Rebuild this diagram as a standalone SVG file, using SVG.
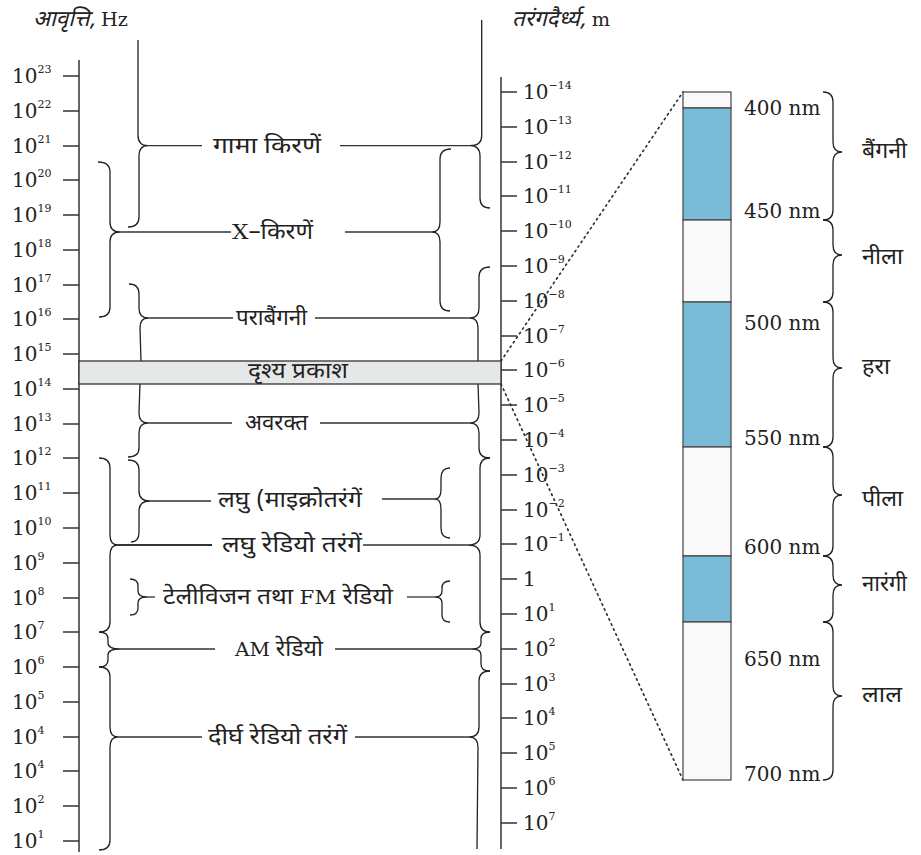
<svg xmlns="http://www.w3.org/2000/svg" width="921" height="855" viewBox="0 0 921 855">
<style>
.num{font-family:'DejaVu Serif','Liberation Serif',serif;font-size:20px;fill:#222}
.sup{font-size:11px}
.hi{font-family:'Noto Sans Devanagari','Noto Serif Devanagari','Lohit Devanagari','Gargi','Mukta',sans-serif;font-size:22px;fill:#222}
.hdr{font-family:'Noto Sans Devanagari','Noto Serif Devanagari','Lohit Devanagari',sans-serif;font-size:22px;font-style:italic;fill:#222}
.ser{font-family:'DejaVu Serif','Liberation Serif',serif;font-style:normal}
.axis{stroke:#666;stroke-width:2;fill:none}
.tick{stroke:#333;stroke-width:1.5}
.br{stroke:#222;stroke-width:1.3;fill:none}
.ln{stroke:#333;stroke-width:1.3}
.dot{stroke:#333;stroke-width:1.7;stroke-dasharray:1.5 4;stroke-linecap:round;fill:none}
.seg{stroke:#444;stroke-width:1.2}
.blue{fill:#7abcd8}
.wht{fill:#f9f9f9}
</style>

<g id="headers">
<text class="hdr" x="33" y="26" textLength="95" lengthAdjust="spacingAndGlyphs">आवृत्ति, <tspan class="ser" font-size="19">Hz</tspan></text>
<text class="hdr" x="512" y="26" textLength="98" lengthAdjust="spacingAndGlyphs">तरंगदैर्ध्य, <tspan class="ser" font-size="19">m</tspan></text>
</g>

<g id="freq-axis">
<line class="axis" x1="79" y1="60" x2="79" y2="852"/>
<g class="tick">
<line x1="63" y1="76" x2="79" y2="76"/><line x1="63" y1="111" x2="79" y2="111"/><line x1="63" y1="146" x2="79" y2="146"/><line x1="63" y1="180" x2="79" y2="180"/><line x1="63" y1="215" x2="79" y2="215"/><line x1="63" y1="250" x2="79" y2="250"/><line x1="63" y1="285" x2="79" y2="285"/><line x1="63" y1="319" x2="79" y2="319"/><line x1="63" y1="354" x2="79" y2="354"/><line x1="63" y1="389" x2="79" y2="389"/><line x1="63" y1="424" x2="79" y2="424"/><line x1="63" y1="458" x2="79" y2="458"/><line x1="63" y1="493" x2="79" y2="493"/><line x1="63" y1="528" x2="79" y2="528"/><line x1="63" y1="563" x2="79" y2="563"/><line x1="63" y1="598" x2="79" y2="598"/><line x1="63" y1="632" x2="79" y2="632"/><line x1="63" y1="667" x2="79" y2="667"/><line x1="63" y1="702" x2="79" y2="702"/><line x1="63" y1="737" x2="79" y2="737"/><line x1="63" y1="771" x2="79" y2="771"/><line x1="63" y1="806" x2="79" y2="806"/><line x1="63" y1="841" x2="79" y2="841"/>
</g>
<text class="num" x="12" y="83">10<tspan class="sup" dy="-10">23</tspan></text>
<text class="num" x="12" y="118">10<tspan class="sup" dy="-10">22</tspan></text>
<text class="num" x="12" y="153">10<tspan class="sup" dy="-10">21</tspan></text>
<text class="num" x="12" y="187">10<tspan class="sup" dy="-10">20</tspan></text>
<text class="num" x="12" y="222">10<tspan class="sup" dy="-10">19</tspan></text>
<text class="num" x="12" y="257">10<tspan class="sup" dy="-10">18</tspan></text>
<text class="num" x="12" y="292">10<tspan class="sup" dy="-10">17</tspan></text>
<text class="num" x="12" y="326">10<tspan class="sup" dy="-10">16</tspan></text>
<text class="num" x="12" y="361">10<tspan class="sup" dy="-10">15</tspan></text>
<text class="num" x="12" y="396">10<tspan class="sup" dy="-10">14</tspan></text>
<text class="num" x="12" y="431">10<tspan class="sup" dy="-10">13</tspan></text>
<text class="num" x="12" y="465">10<tspan class="sup" dy="-10">12</tspan></text>
<text class="num" x="12" y="500">10<tspan class="sup" dy="-10">11</tspan></text>
<text class="num" x="12" y="535">10<tspan class="sup" dy="-10">10</tspan></text>
<text class="num" x="12" y="570">10<tspan class="sup" dy="-10">9</tspan></text>
<text class="num" x="12" y="605">10<tspan class="sup" dy="-10">8</tspan></text>
<text class="num" x="12" y="639">10<tspan class="sup" dy="-10">7</tspan></text>
<text class="num" x="12" y="674">10<tspan class="sup" dy="-10">6</tspan></text>
<text class="num" x="12" y="709">10<tspan class="sup" dy="-10">5</tspan></text>
<text class="num" x="12" y="744">10<tspan class="sup" dy="-10">4</tspan></text>
<text class="num" x="12" y="778">10<tspan class="sup" dy="-10">4</tspan></text>
<text class="num" x="12" y="813">10<tspan class="sup" dy="-10">2</tspan></text>
<text class="num" x="12" y="848">10<tspan class="sup" dy="-10">1</tspan></text>
</g>

<g id="wave-axis">
<line class="axis" x1="501" y1="77" x2="501" y2="849"/>
<g class="tick">
<line x1="501" y1="92" x2="517" y2="92"/><line x1="501" y1="127" x2="517" y2="127"/><line x1="501" y1="162" x2="517" y2="162"/><line x1="501" y1="196" x2="517" y2="196"/><line x1="501" y1="231" x2="517" y2="231"/><line x1="501" y1="266" x2="517" y2="266"/><line x1="501" y1="301" x2="517" y2="301"/><line x1="501" y1="336" x2="517" y2="336"/><line x1="501" y1="370" x2="517" y2="370"/><line x1="501" y1="405" x2="517" y2="405"/><line x1="501" y1="440" x2="517" y2="440"/><line x1="501" y1="475" x2="517" y2="475"/><line x1="501" y1="510" x2="517" y2="510"/><line x1="501" y1="544" x2="517" y2="544"/><line x1="501" y1="579" x2="517" y2="579"/><line x1="501" y1="614" x2="517" y2="614"/><line x1="501" y1="649" x2="517" y2="649"/><line x1="501" y1="684" x2="517" y2="684"/><line x1="501" y1="718" x2="517" y2="718"/><line x1="501" y1="753" x2="517" y2="753"/><line x1="501" y1="788" x2="517" y2="788"/><line x1="501" y1="823" x2="517" y2="823"/>
</g>
<text class="num" x="523" y="99">10<tspan class="sup" dy="-10">−14</tspan></text>
<text class="num" x="523" y="134">10<tspan class="sup" dy="-10">−13</tspan></text>
<text class="num" x="523" y="169">10<tspan class="sup" dy="-10">−12</tspan></text>
<text class="num" x="523" y="203">10<tspan class="sup" dy="-10">−11</tspan></text>
<text class="num" x="523" y="238">10<tspan class="sup" dy="-10">−10</tspan></text>
<text class="num" x="523" y="273">10<tspan class="sup" dy="-10">−9</tspan></text>
<text class="num" x="523" y="308">10<tspan class="sup" dy="-10">−8</tspan></text>
<text class="num" x="523" y="343">10<tspan class="sup" dy="-10">−7</tspan></text>
<text class="num" x="523" y="377">10<tspan class="sup" dy="-10">−6</tspan></text>
<text class="num" x="523" y="412">10<tspan class="sup" dy="-10">−5</tspan></text>
<text class="num" x="523" y="447">10<tspan class="sup" dy="-10">−4</tspan></text>
<text class="num" x="523" y="482">10<tspan class="sup" dy="-10">−3</tspan></text>
<text class="num" x="523" y="517">10<tspan class="sup" dy="-10">−2</tspan></text>
<text class="num" x="523" y="551">10<tspan class="sup" dy="-10">−1</tspan></text>
<text class="num" x="523" y="586">1</text>
<text class="num" x="523" y="621">10<tspan class="sup" dy="-10">1</tspan></text>
<text class="num" x="523" y="656">10<tspan class="sup" dy="-10">2</tspan></text>
<text class="num" x="523" y="691">10<tspan class="sup" dy="-10">3</tspan></text>
<text class="num" x="523" y="725">10<tspan class="sup" dy="-10">4</tspan></text>
<text class="num" x="523" y="760">10<tspan class="sup" dy="-10">5</tspan></text>
<text class="num" x="523" y="795">10<tspan class="sup" dy="-10">6</tspan></text>
<text class="num" x="523" y="830">10<tspan class="sup" dy="-10">7</tspan></text>
</g>

<g id="connectors">
<g class="br">
<path d="M138,40 L138,135 Q138,145.7 148,145.7 Q139,145.7 139,156 L139,217 Q139,227 128,227"/>
<path d="M98,162 Q110,162 110,172 L110,222 Q110,232 120,232 Q110,232 110,242 L110,307 Q110,317 99,317"/>
<path d="M129,284 Q139,284 139,294 L139,308 Q139,318 148,318 Q140,318 140,328 L141,362"/>
<path d="M140,383 L139,413 Q139,423 148,423 Q139,423 139,433 L139,448 Q139,457 128,457"/>
<path d="M128,460 Q139,460 139,470 L139,491 Q139,501 150,501 Q139,501 139,511 L139,532 Q139,542 131,542"/>
<path d="M99,458 Q110,458 110,468 L110,535 Q110,545 118,545 Q110,545 110,555 L110,622 Q110,632 99,632"/>
<path d="M130,579 Q138,579 138,586 L138,591 Q138,597 147,597 Q138,597 138,603 L138,608 Q138,615 130,615"/>
<path d="M99,632 Q108,632 108,639 L108,643 Q108,649 120,649 Q108,649 108,655 L108,660 Q108,667 99,667"/>
<path d="M99,667 Q110,667 110,677 L110,727 Q110,737 118,737 Q110,737 110,747 L110,840 Q110,850 99,850"/>
<path d="M481.7,20 L481.7,136 Q481.7,145.7 470,145.7 Q480,145.7 480,156 L480,198 Q480,208 490,208"/>
<path d="M451,149 Q440,149 440,159 L440,222 Q440,232 432,232 Q440,232 440,242 L440,301 Q440,311 450,311"/>
<path d="M490,267 Q479,267 479,277 L479,308 Q479,318 470,318 Q478,318 478,328 L478,362"/>
<path d="M478,383 L479,413 Q479,423 470,423 Q479,423 479,433 L479,448 Q479,458 490,458"/>
<path d="M450,468 Q441,468 441,478 L441,489 Q441,499 435,499 Q441,499 441,509 L441,528 Q441,538 450,538"/>
<path d="M490,458 Q480,458 480,468 L480,535 Q480,545 468,545 Q480,545 480,555 L480,622 Q480,632 490,632"/>
<path d="M450,581 Q442,581 442,588 L442,591 Q442,597 435,597 Q442,597 442,603 L442,615 Q442,622 450,622"/>
<path d="M490,632 Q481,632 481,639 L481,643 Q481,649 472,649 Q481,649 481,655 L481,664 Q481,671 490,671"/>
<path d="M490,671 Q479,671 479,681 L479,727 Q479,737 469,737 Q478,737 478,747 L477,849"/>
<path d="M823,92 Q833,92 833,102 L833,142 Q833,152 842,152 Q833,152 833,162 L833,210 Q833,220 823,220"/>
<path d="M823,220 Q833,220 833,230 L833,245 Q833,255 842,255 Q833,255 833,265 L833,292 Q833,302 823,302"/>
<path d="M823,302 Q833,302 833,312 L833,358 Q833,368 842,368 Q833,368 833,378 L833,437 Q833,447 823,447"/>
<path d="M823,447 Q833,447 833,457 L833,485 Q833,495 842,495 Q833,495 833,505 L833,546 Q833,556 823,556"/>
<path d="M823,556 Q833,556 833,566 L833,575 Q833,585 842,585 Q833,585 833,595 L833,612 Q833,622 823,622"/>
<path d="M823,622 Q833,622 833,632 L833,686 Q833,696 842,696 Q833,696 833,706 L833,770 Q833,780 823,780"/>
</g>
<g class="ln">
<line x1="148" y1="145.7" x2="202" y2="145.7"/><line x1="340" y1="145.7" x2="470" y2="145.7"/>
<line x1="120" y1="232" x2="231" y2="232"/><line x1="345" y1="232" x2="432" y2="232"/>
<line x1="148" y1="318" x2="233" y2="318"/><line x1="315" y1="318" x2="470" y2="318"/>
<line x1="148" y1="423" x2="232" y2="423"/><line x1="320" y1="423" x2="470" y2="423"/>
<line x1="150" y1="501" x2="211" y2="501"/><line x1="382" y1="499" x2="435" y2="499"/>
<line x1="118" y1="545" x2="212" y2="545" stroke-width="1.8"/><line x1="363" y1="545" x2="468" y2="545"/>
<line x1="147" y1="597" x2="155" y2="597"/><line x1="407" y1="597" x2="435" y2="597"/>
<line x1="120" y1="649" x2="215" y2="649"/><line x1="335" y1="649" x2="472" y2="649"/>
<line x1="118" y1="737" x2="202" y2="737"/><line x1="355" y1="737" x2="469" y2="737"/>
</g>
<path class="dot" d="M501,361 L683,92"/>
<path class="dot" d="M501,384 L683,780"/>
</g>

<g id="visible-band">
<rect x="79" y="361" width="422" height="23" fill="#e6e7e8" stroke="#333" stroke-width="1.3"/>
<text class="hi" x="248" y="378" textLength="100" lengthAdjust="spacingAndGlyphs">दृश्य प्रकाश</text>
</g>

<g id="labels">
<text class="hi" x="213" y="153" textLength="108" lengthAdjust="spacingAndGlyphs">गामा किरणें</text>
<text class="hi" x="232" y="239" textLength="81" lengthAdjust="spacingAndGlyphs"><tspan class="ser" font-size="21">X</tspan>–किरणें</text>
<text class="hi" x="236" y="325" textLength="71" lengthAdjust="spacingAndGlyphs">पराबैंगनी</text>
<text class="hi" x="245" y="430" textLength="63" lengthAdjust="spacingAndGlyphs">अवरक्त</text>
<text class="hi" x="218" y="507" textLength="144" lengthAdjust="spacingAndGlyphs">लघु (माइक्रोतरंगें</text>
<text class="hi" x="222" y="552" textLength="140" lengthAdjust="spacingAndGlyphs">लघु रेडियो तरंगें</text>
<text class="hi" x="163" y="604" textLength="230" lengthAdjust="spacingAndGlyphs">टेलीविजन तथा <tspan class="ser" font-size="19">FM</tspan> रेडियो</text>
<text class="hi" x="235" y="656" textLength="88" lengthAdjust="spacingAndGlyphs"><tspan class="ser" font-size="19">AM</tspan> रेडियो</text>
<text class="hi" x="208" y="744" textLength="139" lengthAdjust="spacingAndGlyphs">दीर्घ रेडियो तरंगें</text>
</g>

<g id="spectrum-bar">
<rect class="wht seg" x="683" y="92" width="48" height="16"/>
<rect class="blue seg" x="683" y="108" width="48" height="112"/>
<rect class="wht seg" x="683" y="220" width="48" height="82"/>
<rect class="blue seg" x="683" y="302" width="48" height="145"/>
<rect class="wht seg" x="683" y="447" width="48" height="109"/>
<rect class="blue seg" x="683" y="556" width="48" height="66"/>
<rect class="wht seg" x="683" y="622" width="48" height="158"/>
</g>

<g id="nm-labels">
<text class="num" x="744" y="115">400 nm</text>
<text class="num" x="744" y="218">450 nm</text>
<text class="num" x="744" y="330">500 nm</text>
<text class="num" x="744" y="445">550 nm</text>
<text class="num" x="744" y="554">600 nm</text>
<text class="num" x="744" y="666">650 nm</text>
<text class="num" x="744" y="781">700 nm</text>
</g>

<g id="colour-labels">
<text class="hi" x="862" y="158" textLength="45" lengthAdjust="spacingAndGlyphs">बैंगनी</text>
<text class="hi" x="862" y="264" textLength="41" lengthAdjust="spacingAndGlyphs">नीला</text>
<text class="hi" x="862" y="374" textLength="28" lengthAdjust="spacingAndGlyphs">हरा</text>
<text class="hi" x="862" y="506" textLength="41" lengthAdjust="spacingAndGlyphs">पीला</text>
<text class="hi" x="862" y="591" textLength="45" lengthAdjust="spacingAndGlyphs">नारंगी</text>
<text class="hi" x="862" y="702" textLength="40" lengthAdjust="spacingAndGlyphs">लाल</text>
</g>
</svg>
